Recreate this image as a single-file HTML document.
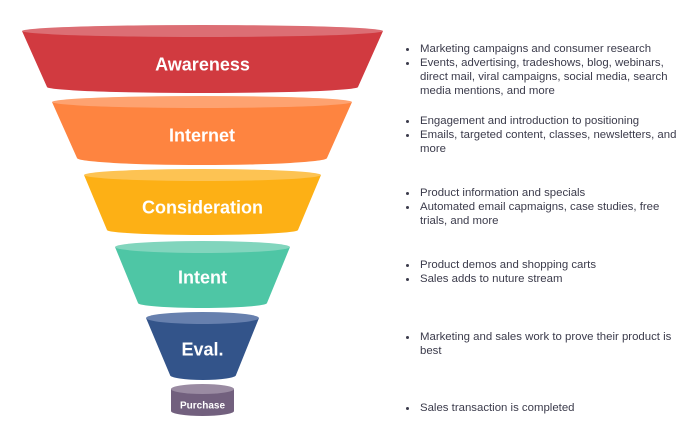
<!DOCTYPE html>
<html><head><meta charset="utf-8"><style>
html,body{margin:0;padding:0;background:#fff;}
body{width:685px;height:445px;position:relative;overflow:hidden;font-family:"Liberation Sans",Arial,sans-serif;}
svg{position:absolute;left:0;top:0;}
.l{position:absolute;left:420px;font-size:11.4px;line-height:14px;color:#3b3b4b;white-space:nowrap;}
.b{position:absolute;left:406px;width:3px;height:3px;border-radius:50%;background:#3b3b4b;}
</style></head><body>
<svg width="685" height="445" viewBox="0 0 685 445" xmlns="http://www.w3.org/2000/svg">
<g font-family="Liberation Sans, Arial, sans-serif" font-weight="bold" fill="#fff" text-anchor="middle">
<path d="M22,31 L47,87 A155.5,6 0 0 0 358,87 L383,31 Z" fill="#D13A40"/>
<ellipse cx="202.5" cy="31" rx="180.5" ry="6" fill="#DC6E74"/>
<text x="202.5" y="70.5" font-size="18" fill="#fff">Awareness</text>
<path d="M52,102 L77,158 A125,7 0 0 0 327,158 L352,102 Z" fill="#FE8440"/>
<ellipse cx="202" cy="102" rx="150" ry="6" fill="#FEA270"/>
<text x="202" y="141.5" font-size="18" fill="#fff">Internet</text>
<path d="M84,175 L107,230 A95.5,5 0 0 0 298,230 L321,175 Z" fill="#FDB015"/>
<ellipse cx="202.5" cy="175" rx="118.5" ry="6" fill="#FDC353"/>
<text x="202.5" y="213.5" font-size="18" fill="#fff">Consideration</text>
<path d="M115,247 L138,303 A64.5,5 0 0 0 267,303 L290,247 Z" fill="#4EC6A5"/>
<ellipse cx="202.5" cy="247" rx="87.5" ry="6" fill="#81D5BD"/>
<text x="202.5" y="283.5" font-size="18" fill="#fff">Intent</text>
<path d="M146,318 L170,375 A33,5 0 0 0 236,375 L259,318 Z" fill="#33548A"/>
<ellipse cx="202.5" cy="318" rx="56.5" ry="6" fill="#6780AE"/>
<text x="202.5" y="355.5" font-size="18" fill="#fff">Eval.</text>
<path d="M171,389 L171,411 A31.5,5 0 0 0 234,411 L234,389 Z" fill="#72607E"/>
<ellipse cx="202.5" cy="389" rx="31.5" ry="5" fill="#9A8BA2"/>
<text x="202.5" y="408.5" font-size="10" fill="#fff">Purchase</text>
</g>
</svg>

<div class="b" style="top:47.5px"></div><div class="l" style="top:42px">Marketing campaigns and consumer research</div>
<div class="b" style="top:61.5px"></div><div class="l" style="top:56px">Events, advertising, tradeshows, blog, webinars,</div>
<div class="l" style="top:70px">direct mail, viral campaigns, social media, search</div>
<div class="l" style="top:84px">media mentions, and more</div>

<div class="b" style="top:119.5px"></div><div class="l" style="top:114px">Engagement and introduction to positioning</div>
<div class="b" style="top:133.5px"></div><div class="l" style="top:128px">Emails, targeted content, classes, newsletters, and</div>
<div class="l" style="top:142px">more</div>

<div class="b" style="top:191.5px"></div><div class="l" style="top:186px">Product information and specials</div>
<div class="b" style="top:205.5px"></div><div class="l" style="top:200px">Automated email capmaigns, case studies, free</div>
<div class="l" style="top:214px">trials, and more</div>

<div class="b" style="top:263.5px"></div><div class="l" style="top:258px">Product demos and shopping carts</div>
<div class="b" style="top:277.5px"></div><div class="l" style="top:272px">Sales adds to nuture stream</div>

<div class="b" style="top:335.5px"></div><div class="l" style="top:330px">Marketing and sales work to prove their product is</div>
<div class="l" style="top:344px">best</div>

<div class="b" style="top:406.5px"></div><div class="l" style="top:401px">Sales transaction is completed</div>
</body></html>
